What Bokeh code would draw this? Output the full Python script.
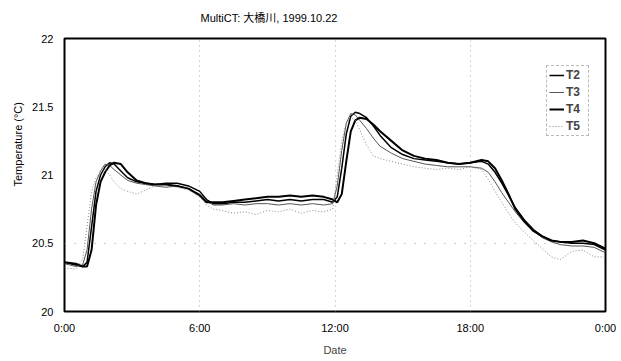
from bokeh.plotting import figure
from bokeh.models import Range1d, FixedTicker, Legend, LegendItem, Title
from bokeh.embed import file_html
from bokeh.resources import INLINE

title_text = "MultiCT: 大橋川, 1999.10.22"
x_label = "Date"
y_label = "Temperature (\u00b0C)"

x_ticks = [0, 6, 12, 18, 24]
x_tick_labels = ["0:00", "6:00", "12:00", "18:00", "0:00"]
y_ticks = [20, 20.5, 21, 21.5, 22]
y_tick_labels = ["20", "20.5", "21", "21.5", "22"]

hours = [0, 0.5, 0.8, 1.0, 1.2, 1.4, 1.6, 1.8, 2.0, 2.2,
         2.5, 2.8, 3.2, 3.6, 4.0, 4.5, 5.0, 5.5, 6.0, 6.3,
         6.6, 7.0, 7.5, 8.0, 8.5, 9.0, 9.5, 10.0, 10.5, 11.0,
         11.5, 11.9, 12.1, 12.3, 12.5, 12.7, 12.9, 13.1, 13.4, 13.7,
         14.0, 14.5, 15.0, 15.5, 16.0, 16.5, 17.0, 17.5, 18.0, 18.5,
         18.8, 19.1, 19.4, 19.7, 20.0, 20.4, 20.8, 21.2, 21.6, 22.0,
         22.5, 23.0, 23.5, 24.0]

T2 = [20.36, 20.34, 20.33, 20.36, 20.62, 20.88, 21.00, 21.06, 21.09, 21.08,
      21.03, 20.98, 20.95, 20.94, 20.93, 20.94, 20.94, 20.92, 20.88, 20.82,
      20.79, 20.79, 20.80, 20.80, 20.81, 20.82, 20.81, 20.82, 20.81, 20.82,
      20.82, 20.80, 20.84, 21.05, 21.30, 21.43, 21.46, 21.45, 21.42, 21.36,
      21.29, 21.20, 21.15, 21.12, 21.11, 21.10, 21.09, 21.08, 21.09, 21.10,
      21.08, 21.02, 20.94, 20.85, 20.76, 20.67, 20.60, 20.55, 20.52, 20.51,
      20.50, 20.50, 20.49, 20.45]

T3 = [20.35, 20.33, 20.34, 20.45, 20.75, 20.95, 21.03, 21.08, 21.07, 21.04,
      21.00, 20.96, 20.94, 20.93, 20.92, 20.91, 20.92, 20.90, 20.86, 20.81,
      20.78, 20.78, 20.79, 20.78, 20.79, 20.79, 20.78, 20.79, 20.78, 20.79,
      20.78, 20.79, 20.92, 21.18, 21.38, 21.45, 21.44, 21.40, 21.34, 21.27,
      21.21, 21.16, 21.12, 21.10, 21.08, 21.07, 21.06, 21.06, 21.06, 21.05,
      21.02, 20.95, 20.87, 20.80, 20.73, 20.65, 20.59, 20.54, 20.51, 20.49,
      20.48, 20.48, 20.47, 20.43]

T4 = [20.36, 20.35, 20.33, 20.33, 20.45, 20.78, 20.95, 21.02, 21.07, 21.09,
      21.08, 21.02, 20.96, 20.94, 20.93, 20.93, 20.92, 20.90, 20.85, 20.80,
      20.80, 20.80, 20.81, 20.82, 20.83, 20.84, 20.84, 20.85, 20.84, 20.85,
      20.84, 20.82, 20.80, 20.86, 21.10, 21.32, 21.40, 21.42, 21.41, 21.37,
      21.32, 21.25, 21.18, 21.14, 21.12, 21.11, 21.09, 21.08, 21.09, 21.11,
      21.10, 21.05, 20.96, 20.86, 20.75, 20.66, 20.59, 20.55, 20.52, 20.51,
      20.51, 20.52, 20.50, 20.46]

T5 = [20.32, 20.31, 20.38, 20.62, 20.88, 20.98, 21.02, 21.04, 21.00, 20.95,
      20.90, 20.88, 20.86, 20.89, 20.92, 20.92, 20.91, 20.89, 20.84, 20.78,
      20.75, 20.74, 20.72, 20.73, 20.71, 20.74, 20.73, 20.75, 20.72, 20.74,
      20.73, 20.75, 21.00, 21.25, 21.38, 21.42, 21.40, 21.33, 21.22, 21.14,
      21.12, 21.10, 21.08, 21.06, 21.05, 21.04, 21.05, 21.04, 21.06, 21.04,
      20.97, 20.88, 20.80, 20.72, 20.65, 20.58, 20.52, 20.46, 20.40, 20.38,
      20.44, 20.45, 20.40, 20.40]

FONT = "Liberation Sans, Noto Sans CJK JP"

p = figure(width=618, height=358, output_backend="svg", toolbar_location=None,
           title=None,
           x_range=Range1d(0, 24), y_range=Range1d(20, 22),
           min_border_left=64, min_border_right=13, min_border_top=38, min_border_bottom=43)

p.add_layout(Title(text=title_text, align="left", offset=136,
                   padding=(0, 0, 0, 10),
                   text_font=FONT, text_font_size="11px", text_font_style="normal",
                   text_color="black"), "above")

p.add_layout(Title(text=y_label, align="left", offset=125, standoff=12, text_font=FONT,
                   text_font_size="11px", text_font_style="normal", text_color="black"), "left")

p.outline_line_color = "black"
p.outline_line_width = 2
p.background_fill_color = "white"
p.border_fill_color = "white"

for ax in (p.xaxis[0], p.yaxis[0]):
    ax.axis_line_color = None
    ax.major_tick_line_color = None
    ax.minor_tick_line_color = None
    ax.major_tick_out = 0
    ax.major_tick_in = 0
    ax.minor_tick_out = 0
    ax.minor_tick_in = 0
    ax.major_label_text_font = FONT
    ax.major_label_text_font_size = "11px"
    ax.major_label_text_color = "black"

p.xaxis.ticker = FixedTicker(ticks=x_ticks)
p.xaxis.major_label_overrides = {t: l for t, l in zip(x_ticks, x_tick_labels)}
p.xaxis.major_label_standoff = 10
p.xaxis.axis_label = x_label
p.xaxis.axis_label_text_font = FONT
p.xaxis.axis_label_text_font_size = "11px"
p.xaxis.axis_label_text_font_style = "normal"
p.xaxis.axis_label_standoff = 7

p.yaxis.ticker = FixedTicker(ticks=y_ticks)
p.yaxis.major_label_overrides = {t: l for t, l in zip(y_ticks, y_tick_labels)}
p.yaxis.major_label_standoff = 11

p.xgrid.grid_line_color = "#aaaaaa"
p.xgrid.grid_line_dash = "1 4"
p.xgrid.grid_line_width = 1
p.ygrid.ticker = FixedTicker(ticks=[20.5])
p.ygrid.grid_line_color = "#999999"
p.ygrid.grid_line_dash = "1 9"
p.ygrid.grid_line_width = 1

r2 = p.line(hours, T2, line_color="black", line_width=1.5)
r3 = p.line(hours, T3, line_color="#555555", line_width=1)
r4 = p.line(hours, T4, line_color="black", line_width=2)
r5 = p.line(hours, T5, line_color="#888888", line_width=1, line_dash="1 2")

legend = Legend(items=[LegendItem(label="T2", renderers=[r2]),
                       LegendItem(label="T3", renderers=[r3]),
                       LegendItem(label="T4", renderers=[r4]),
                       LegendItem(label="T5", renderers=[r5])],
                location=(482, 175))
legend.label_text_font = FONT
legend.label_text_font_size = "12px"
legend.label_text_font_style = "bold"
legend.glyph_width = 15
legend.glyph_height = 14
legend.spacing = 3
legend.padding = 2
legend.margin = 0
legend.label_standoff = 2
legend.border_line_color = "#777777"
legend.border_line_dash = "2 2"
legend.border_line_width = 1
legend.background_fill_alpha = 1
p.add_layout(legend)

open("out.html", "w").write(file_html(p, INLINE))
